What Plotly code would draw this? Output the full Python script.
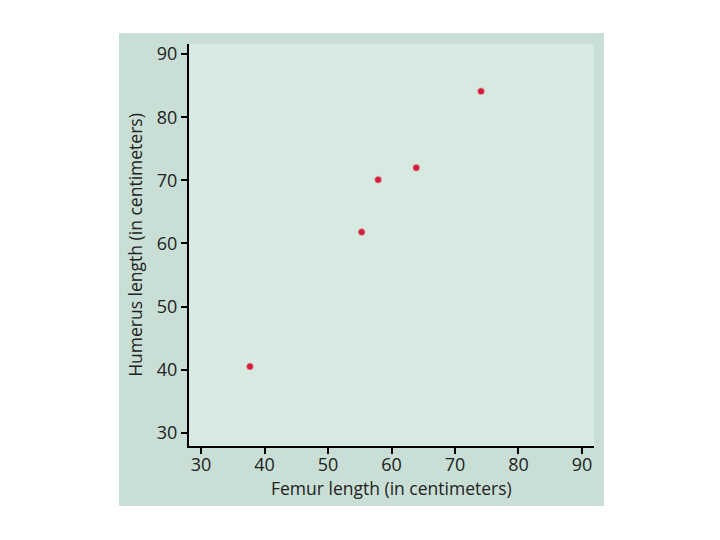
import plotly.graph_objects as go

femur = [37.7, 55.3, 57.9, 63.9, 74.1]
humerus = [40.5, 61.8, 70.1, 72.0, 84.1]
ticks = [30, 40, 50, 60, 70, 80, 90]

PANEL = '#c9dfd5'
PLOT_BG = '#d6eae2'
DOT = '#d0203a'
FONT = 'Open Sans'

fig = go.Figure()
fig.add_trace(go.Scatter(x=femur, y=humerus, mode='markers',
                         marker=dict(size=7, color=DOT, line=dict(width=1, color='rgba(240,200,200,0.6)')),
                         showlegend=False))

# darker panel behind everything, lighter panel under the plot area
fig.add_shape(type='rect', xref='paper', yref='paper', x0=-0.1728, x1=1.0247, y0=-0.1493, y1=1.0274,
              fillcolor=PANEL, line=dict(width=0), layer='below')
fig.add_shape(type='rect', xref='paper', yref='paper', x0=0, x1=1, y0=0, y1=1,
              fillcolor=PLOT_BG, line=dict(width=0), layer='below')

axis_common = dict(tickvals=ticks, ticks='outside', ticklen=6, tickwidth=1.5, tickcolor='black',
                   showline=True, linecolor='black', linewidth=2, showgrid=False, zeroline=False,
                   tickfont=dict(family=FONT, size=18, color='#222'))

fig.update_xaxes(range=[28.1, 91.9], ticklabelstandoff=-5, **axis_common)
fig.update_yaxes(range=[27.9, 91.6], title=dict(text='Humerus length (in centimeters)', standoff=10,
                 font=dict(family=FONT, size=17.5, color='#222')), **axis_common)

# x title placed as an annotation so it sits closer to the tick labels
fig.add_annotation(text='Femur length (in centimeters)', xref='paper', yref='paper', x=0.5, y=-0.104,
                   yanchor='middle', showarrow=False, font=dict(family=FONT, size=17.5, color='#222'))

fig.update_layout(width=720, height=540, paper_bgcolor='white', plot_bgcolor=PLOT_BG,
                  margin=dict(l=181, r=134, t=36, b=102), font=dict(family=FONT))

fig.write_html('out.html')
